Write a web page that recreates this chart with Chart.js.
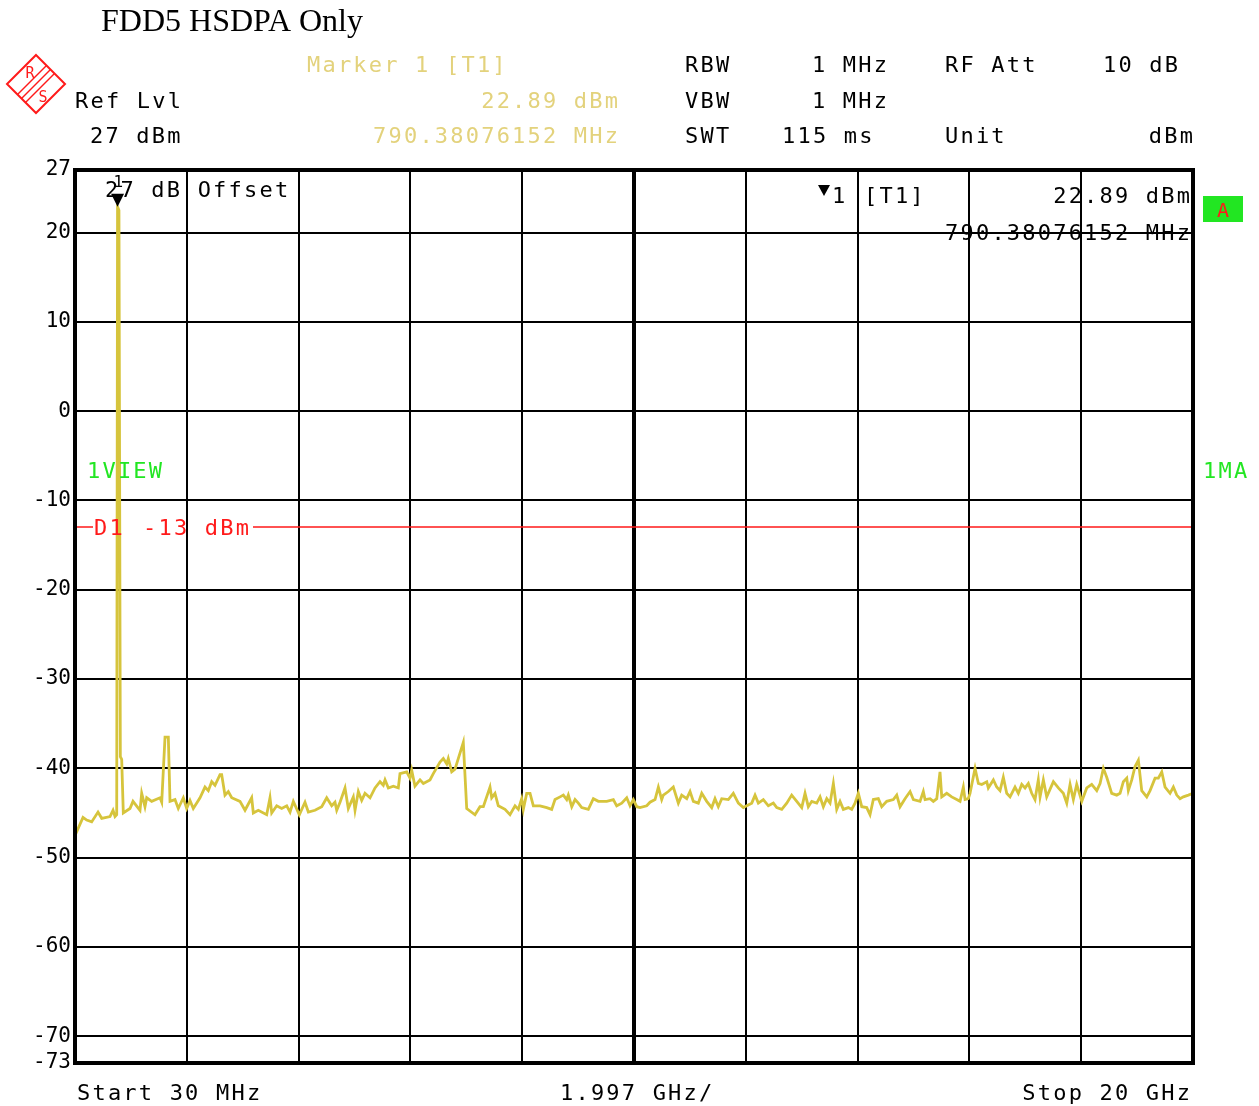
<!DOCTYPE html>
<html>
<head>
<meta charset="utf-8">
<script src="https://cdn.jsdelivr.net/npm/chart.js@4"></script>
<style>
  html, body { margin: 0; padding: 0; background: #fff; }
  #wrap { width: 1259px; height: 1106px; }
</style>
</head>
<body>
<div id="wrap"><canvas id="spec" width="1259" height="1106"></canvas></div>
<script>
// trace: frequency in GHz, level in dBm
const freqGHz = [
  0.030, 0.060, 0.173, 0.239, 0.328, 0.441, 0.507, 0.655, 0.709, 0.745,
  0.775, 0.790, 0.815, 0.840, 0.864, 0.893, 1.012, 1.066, 1.191, 1.221, 1.280,
  1.311, 1.400, 1.548, 1.579, 1.638, 1.697, 1.727, 1.816, 1.875, 1.965,
  2.025, 2.084, 2.143, 2.263, 2.352, 2.411, 2.472, 2.531, 2.620, 2.650,
  2.709, 2.768, 2.829, 2.977, 3.067, 3.186, 3.215, 3.304, 3.454, 3.513,
  3.544, 3.633, 3.722, 3.812, 3.871, 3.930, 4.037, 4.138, 4.198, 4.317,
  4.437, 4.526, 4.615, 4.674, 4.705, 4.764, 4.853, 4.912, 5.001, 5.032,
  5.091, 5.151, 5.210, 5.300, 5.389, 5.478, 5.537, 5.568, 5.627, 5.716,
  5.805, 5.835, 5.955, 6.014, 6.044, 6.103, 6.193, 6.252, 6.371, 6.430,
  6.550, 6.609, 6.670, 6.698, 6.759, 6.818, 6.966, 7.027, 7.175, 7.264,
  7.324, 7.443, 7.473, 7.532, 7.591, 7.711, 7.800, 7.890, 7.949, 8.009,
  8.038, 8.099, 8.158, 8.217, 8.336, 8.456, 8.545, 8.604, 8.694, 8.753,
  8.813, 8.842, 8.903, 8.962, 9.021, 9.081, 9.199, 9.289, 9.378, 9.528,
  9.646, 9.706, 9.796, 9.885, 9.944, 10.003, 10.064, 10.123, 10.242, 10.301,
  10.391, 10.450, 10.510, 10.539, 10.628, 10.717, 10.807, 10.867, 10.957, 11.016,
  11.075, 11.164, 11.225, 11.314, 11.403, 11.462, 11.521, 11.582, 11.700, 11.789,
  11.879, 11.968, 12.029, 12.118, 12.177, 12.236, 12.325, 12.415, 12.504, 12.565,
  12.654, 12.743, 12.832, 12.922, 13.011, 13.070, 13.129, 13.190, 13.279, 13.338,
  13.397, 13.458, 13.517, 13.576, 13.636, 13.695, 13.754, 13.844, 13.904, 13.963,
  14.022, 14.083, 14.172, 14.231, 14.290, 14.379, 14.440, 14.529, 14.647, 14.708,
  14.767, 14.856, 14.946, 15.005, 15.124, 15.183, 15.214, 15.303, 15.362, 15.423,
  15.481, 15.512, 15.601, 15.690, 15.780, 15.839, 15.898, 15.928, 15.987, 16.017,
  16.107, 16.166, 16.226, 16.316, 16.344, 16.434, 16.494, 16.553, 16.612, 16.673,
  16.732, 16.821, 16.880, 16.941, 17.000, 17.059, 17.119, 17.178, 17.237, 17.268,
  17.327, 17.387, 17.506, 17.595, 17.684, 17.745, 17.804, 17.863, 17.923, 18.013,
  18.102, 18.191, 18.281, 18.340, 18.399, 18.459, 18.548, 18.638, 18.697, 18.756,
  18.817, 18.845, 18.906, 18.965, 19.024, 19.084, 19.174, 19.233, 19.322, 19.381,
  19.442, 19.501, 19.590, 19.649, 19.710, 19.769, 19.828, 19.917, 20.000
];
const levelDbm = [
  -46.9, -47.1, -45.5, -45.8, -46.0, -44.9, -45.6, -45.4, -44.7, -45.4,
  -45.2, 22.89, 22.5, -38.7, -39.0, -45.0, -44.5, -43.7, -44.7, -42.8, -44.3,
  -43.3, -43.7, -43.3, -43.8, -36.5, -36.5, -43.7, -43.5, -44.5, -43.3,
  -44.5, -43.6, -44.5, -43.3, -42.1, -42.5, -41.5, -41.9, -40.7, -40.7,
  -43.0, -42.6, -43.3, -43.7, -44.7, -43.3, -45.0, -44.7, -45.2, -43.3,
  -45.0, -44.2, -44.5, -44.2, -44.9, -43.7, -45.2, -43.8, -44.9, -44.7,
  -44.3, -43.3, -44.2, -43.8, -44.7, -43.8, -42.2, -44.5, -43.2, -44.7,
  -42.6, -43.6, -42.8, -43.3, -42.2, -41.5, -41.9, -41.3, -42.2, -42.0,
  -42.2, -40.6, -40.4, -41.1, -40.2, -42.0, -41.3, -41.7, -41.3, -40.6,
  -39.3, -38.9, -39.5, -38.9, -40.4, -40.1, -37.1, -44.5, -45.2, -44.3,
  -44.3, -42.1, -43.3, -42.8, -44.2, -44.6, -45.2, -44.2, -44.6, -43.4,
  -44.6, -42.8, -42.8, -44.2, -44.2, -44.4, -44.6, -43.5, -43.2, -43.0,
  -43.5, -43.0, -44.3, -43.5, -43.9, -44.4, -44.6, -43.4, -43.7, -43.7,
  -43.5, -44.2, -43.9, -43.3, -44.2, -43.5, -44.3, -44.4, -44.2, -43.8,
  -43.5, -42.1, -43.5, -43.0, -42.6, -42.1, -43.9, -43.0, -43.4, -42.6,
  -43.7, -43.9, -42.8, -43.7, -44.4, -43.4, -44.3, -43.4, -43.5, -42.8,
  -43.9, -44.4, -44.2, -43.9, -43.0, -43.9, -43.5, -44.2, -43.9, -44.4,
  -44.6, -43.9, -43.0, -43.7, -44.4, -42.8, -44.3, -43.7, -43.9, -43.2,
  -44.3, -43.4, -43.9, -41.7, -44.6, -43.7, -44.6, -44.4, -44.6, -43.9,
  -42.8, -44.3, -44.4, -45.2, -43.5, -43.4, -44.3, -43.7, -43.5, -43.0,
  -44.3, -43.4, -42.6, -43.5, -43.7, -42.6, -43.5, -43.4, -43.7, -43.4,
  -40.4, -43.2, -42.8, -43.2, -43.5, -43.7, -42.1, -43.5, -43.4, -42.8,
  -40.0, -41.7, -41.8, -41.5, -42.2, -41.3, -42.1, -42.5, -41.0, -42.8,
  -43.2, -42.1, -42.8, -41.8, -42.2, -41.7, -42.8, -43.5, -41.3, -43.2,
  -41.3, -43.2, -41.5, -42.2, -42.8, -43.9, -41.8, -43.5, -41.8, -43.7,
  -42.2, -41.8, -42.5, -41.7, -40.0, -41.0, -42.8, -43.0, -42.8, -41.5,
  -41.1, -42.5, -41.3, -39.8, -39.1, -42.5, -43.2, -42.5, -41.1, -41.1,
  -40.4, -42.1, -42.8, -42.1, -43.0, -43.4, -43.2, -43.0, -42.8
];

const yTicks = [27, 20, 10, 0, -10, -20, -30, -40, -50, -60, -70, -73];
const startGHz = 0.03;
const stopGHz = 20;
const spanPerDivGHz = 1.997;
const limitDbm = -13;
const markerGHz = 0.79038076152;
const markerDbm = 22.89;

const TRACE = '#d6c43c';
const PALE = '#e3d27c';
const GREEN = '#22e622';
const RED = '#ff1a1a';
const MONO = '"DejaVu Sans Mono", monospace';

function txt(ctx, s, x, y, color, align = 'left', size = 22, spacing = 2.2) {
  ctx.save();
  ctx.font = `${size}px ${MONO}`;
  ctx.letterSpacing = spacing + 'px';
  ctx.fillStyle = color;
  ctx.textAlign = align;
  ctx.textBaseline = 'alphabetic';
  ctx.fillText(s, align === 'right' ? x + spacing : x, y);
  ctx.restore();
}

function drawLogo(ctx, cx, cy, r) {
  ctx.save();
  ctx.strokeStyle = RED;
  ctx.fillStyle = RED;
  ctx.lineWidth = 2;
  ctx.beginPath();
  ctx.moveTo(cx, cy - r); ctx.lineTo(cx + r, cy); ctx.lineTo(cx, cy + r); ctx.lineTo(cx - r, cy);
  ctx.closePath();
  ctx.stroke();
  // three stripes parallel to the upper-left edge
  ctx.lineWidth = 1.5;
  for (const d of [-4, 0, 4]) {
    ctx.beginPath();
    ctx.moveTo(cx + r / 2 + d, cy - r / 2 + d);
    ctx.lineTo(cx - r / 2 + d, cy + r / 2 + d);
    ctx.stroke();
  }
  ctx.font = `15px ${MONO}`;
  ctx.textAlign = 'center';
  ctx.fillText('R', cx - 6, cy - 6);
  ctx.fillText('S', cx + 7, cy + 18);
  ctx.restore();
}

const decor = {
  id: 'decor',
  beforeDraw(chart) {
    const { ctx } = chart;
    ctx.save();
    ctx.fillStyle = '#fff';
    ctx.fillRect(0, 0, chart.width, chart.height);
    ctx.restore();
  },
  afterDatasetsDraw(chart) {
    const { ctx, chartArea: a, scales: { x, y } } = chart;

    // display line D1
    const yl = Math.round(y.getPixelForValue(limitDbm));
    ctx.save();
    ctx.strokeStyle = RED;
    ctx.lineWidth = 1.6;
    ctx.beginPath();
    ctx.moveTo(a.left, yl); ctx.lineTo(93, yl);
    ctx.moveTo(253, yl); ctx.lineTo(a.right, yl);
    ctx.stroke();
    ctx.restore();
    txt(ctx, 'D1', 94, yl + 8, RED);
    txt(ctx, '-13 dBm', 143, yl + 8, RED);

    // frame
    ctx.save();
    ctx.strokeStyle = '#000';
    ctx.lineWidth = 4;
    ctx.strokeRect(a.left, a.top, a.right - a.left, a.bottom - a.top);
    ctx.restore();

    // marker triangle
    const mx = x.getPixelForValue(markerGHz);
    const my = y.getPixelForValue(markerDbm);
    ctx.save();
    ctx.fillStyle = '#000';
    ctx.beginPath();
    ctx.moveTo(mx - 6.5, my - 13); ctx.lineTo(mx + 6.5, my - 13); ctx.lineTo(mx, my);
    ctx.closePath();
    ctx.fill();
    ctx.restore();
    txt(ctx, '1', mx - 4, my - 20, '#000', 'left', 16, 0);

    // texts inside the grid
    txt(ctx, '27 dB Offset', 105, 197, '#000');
    ctx.save();
    ctx.fillStyle = '#000';
    ctx.beginPath();
    ctx.moveTo(818, 185); ctx.lineTo(830, 185); ctx.lineTo(824, 196);
    ctx.closePath();
    ctx.fill();
    ctx.restore();
    txt(ctx, '1', 832, 203, '#000');
    txt(ctx, '[T1]', 864, 203, '#000');
    txt(ctx, '22.89 dBm', 1190, 203, '#000', 'right');
    txt(ctx, '790.38076152 MHz', 1190, 240, '#000', 'right');
    txt(ctx, '1VIEW', 87, 478, GREEN);
  },
  afterDraw(chart) {
    const { ctx } = chart;
    ctx.save();
    ctx.font = '32px "Liberation Serif", serif';
    ctx.fillStyle = '#000';
    ctx.fillText('FDD5 HSDPA Only', 101, 31);
    ctx.restore();

    drawLogo(ctx, 36, 84, 29);

    txt(ctx, 'Marker 1 [T1]', 307, 72, PALE);
    txt(ctx, '22.89 dBm', 618, 108, PALE, 'right');
    txt(ctx, '790.38076152 MHz', 618, 143, PALE, 'right');
    txt(ctx, 'Ref Lvl', 75, 108, '#000');
    txt(ctx, '27 dBm', 90, 143, '#000');

    txt(ctx, 'RBW', 685, 72, '#000');
    txt(ctx, '1 MHz', 887, 72, '#000', 'right');
    txt(ctx, 'RF Att', 945, 72, '#000');
    txt(ctx, '10 dB', 1178, 72, '#000', 'right');
    txt(ctx, 'VBW', 685, 108, '#000');
    txt(ctx, '1 MHz', 887, 108, '#000', 'right');
    txt(ctx, 'SWT', 685, 143, '#000');
    txt(ctx, '115 ms', 782, 143, '#000');
    txt(ctx, 'Unit', 945, 143, '#000');
    txt(ctx, 'dBm', 1193, 143, '#000', 'right');

    // status box "A" and trace mode
    ctx.save();
    ctx.fillStyle = GREEN;
    ctx.fillRect(1203, 196, 40, 26);
    ctx.restore();
    txt(ctx, 'A', 1223, 217, RED, 'center', 20, 0);
    txt(ctx, '1MA', 1203, 478, GREEN);

    txt(ctx, 'Start 30 MHz', 77, 1100, '#000');
    txt(ctx, '1.997 GHz/', 560, 1100, '#000');
    txt(ctx, 'Stop 20 GHz', 1190, 1100, '#000', 'right');
  }
};

new Chart(document.getElementById('spec'), {
  type: 'scatter',
  data: {
    datasets: [{
      data: freqGHz.map((f, i) => ({ x: f, y: levelDbm[i] })),
      showLine: true,
      borderColor: TRACE,
      borderWidth: 2.8,
      pointRadius: 0,
      tension: 0
    }]
  },
  options: {
    responsive: false,
    animation: false,
    events: [],
    layout: { padding: { left: 0, right: 66, top: 170, bottom: 43 } },
    plugins: { legend: { display: false }, tooltip: { enabled: false } },
    scales: {
      x: {
        type: 'linear',
        min: startGHz,
        max: stopGHz,
        afterBuildTicks: s => {
          s.ticks = Array.from({ length: 11 }, (_, k) => ({ value: startGHz + k * spanPerDivGHz }));
        },
        afterFit: s => { s.height = 0; },
        ticks: { display: false },
        border: { display: false },
        grid: {
          color: '#000',
          lineWidth: c => (c.index === 5 ? 4 : 2),
          drawTicks: false
        }
      },
      y: {
        min: -73,
        max: 27,
        afterBuildTicks: s => { s.ticks = yTicks.map(v => ({ value: v })); },
        afterFit: s => { s.width = 75; },
        border: { display: false },
        grid: { color: '#000', lineWidth: 2, drawTicks: false },
        ticks: {
          color: '#000',
          padding: 4,
          font: { family: 'DejaVu Sans Mono', size: 21 },
          callback: v => String(v)
        }
      }
    }
  },
  plugins: [decor]
});
</script>
</body>
</html>
